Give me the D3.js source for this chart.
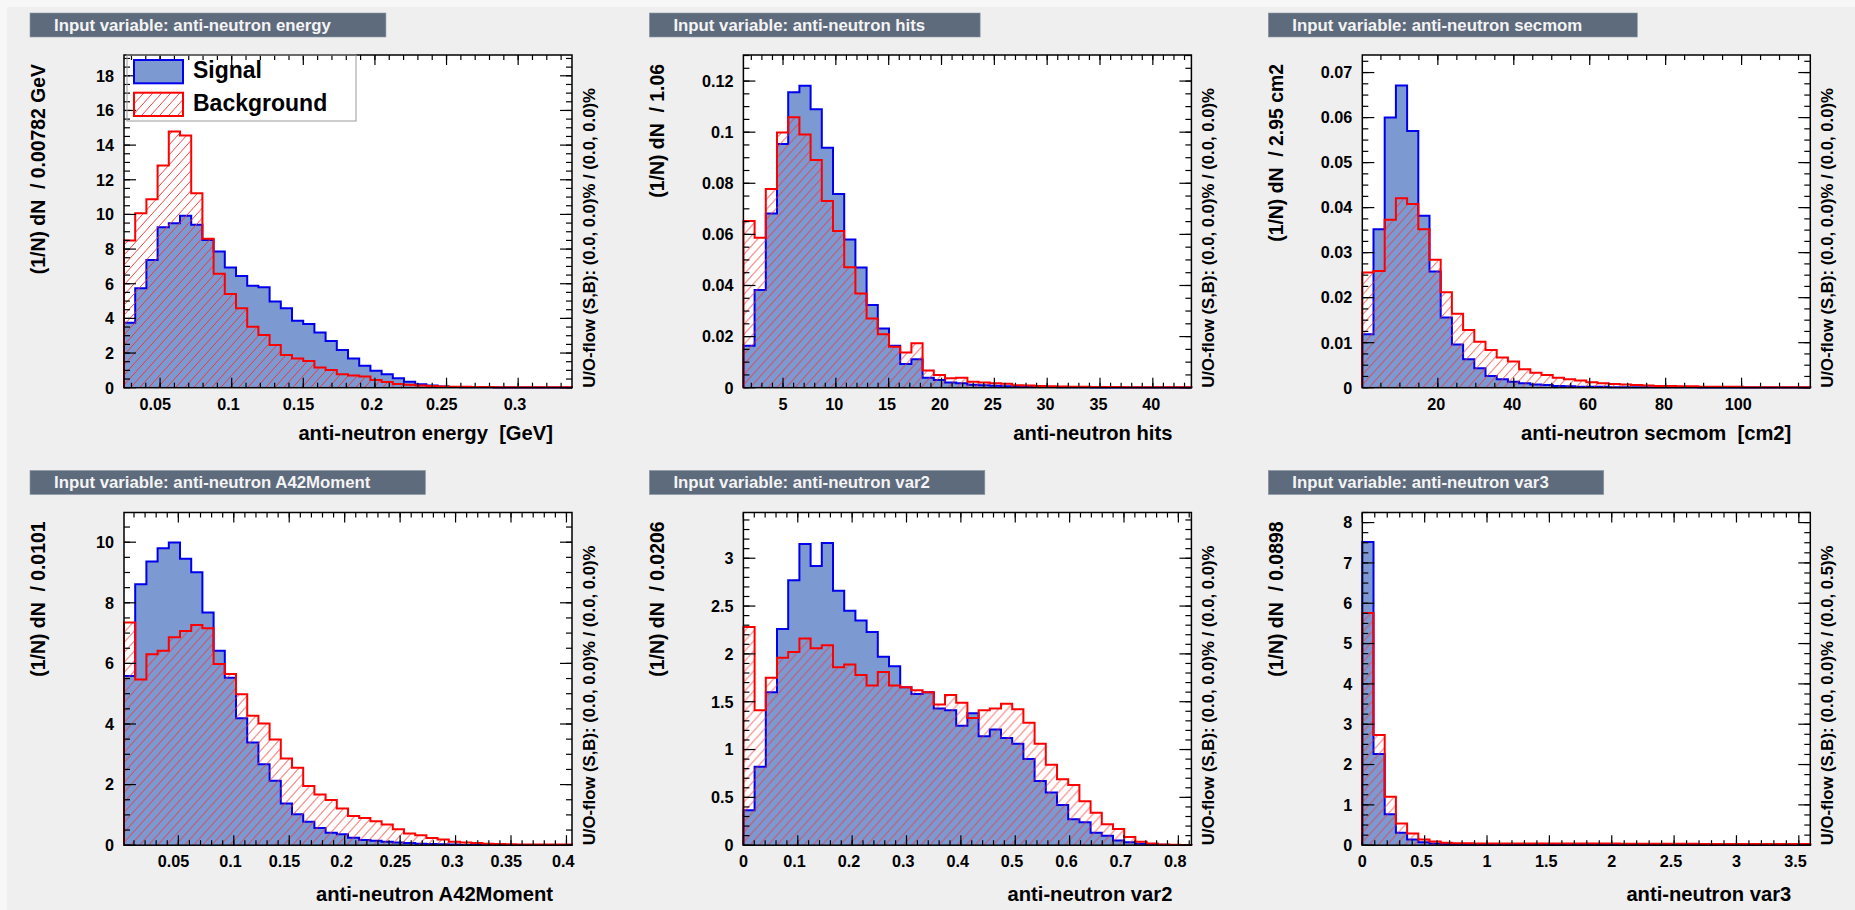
<!DOCTYPE html>
<html>
<head>
<meta charset="utf-8">
<script src="https://cdn.jsdelivr.net/npm/d3@7"></script>
<style>
  body { margin: 0; background: #f7f7f7; }
  svg { display: block; }
  text { font-family: 'Liberation Sans', Arial, Helvetica, sans-serif; font-weight: bold; }
</style>
</head>
<body>
<div id="chart"></div>
<script>
// normalised bin contents (1/N) dN, 40 bins per input variable
const energySignal = [3.75, 5.74, 7.37, 9.26, 9.49, 9.92, 9.4, 8.53, 7.86, 6.93, 6.45, 5.89, 5.8, 4.97, 4.58, 3.87, 3.68, 3.18, 2.7, 2.18,
  1.69, 1.27, 0.98, 0.77, 0.54, 0.35, 0.2, 0.12, 0.07, 0.04, 0.03, 0.02, 0.02, 0.01, 0.01, 0.01, 0.01, 0.005, 0.005, 0.005]
const energyBackground = [8.5, 10.07, 10.88, 12.82, 14.79, 14.56, 11.22, 8.59, 6.57, 5.41, 4.58, 3.52, 3.04, 2.46, 1.89, 1.69, 1.54, 1.16, 1.02, 0.77,
  0.71, 0.64, 0.44, 0.33, 0.21, 0.17, 0.12, 0.1, 0.07, 0.06, 0.05, 0.04, 0.04, 0.03, 0.03, 0.03, 0.02, 0.02, 0.02, 0.02]

const hitsSignal = [0.0164, 0.0382, 0.0682, 0.0954, 0.1156, 0.1182, 0.109, 0.0939, 0.0758, 0.058, 0.047, 0.0324, 0.0232, 0.0164, 0.0093, 0.0111,
  0.0039, 0.003, 0.002, 0.0017, 0.0012, 0.001, 0.0008, 0.0006, 0.0005, 0.0004, 0.0003, 0.0003, 0.0002, 0.0002, 0.0002, 0.0001, 0.0001, 0.0001,
  0.0001, 0.0001, 0.0001, 0.0001, 0.0001, 0.0001]
const hitsBackground = [0.0652, 0.0587, 0.0778, 0.0999, 0.1058, 0.0991, 0.0891, 0.0731, 0.0613, 0.0471, 0.0369, 0.0271, 0.0209, 0.016, 0.0138,
  0.0174, 0.0067, 0.005, 0.0037, 0.0039, 0.0023, 0.002, 0.0017, 0.0015, 0.001, 0.0009, 0.0007, 0.0006, 0.0005, 0.0004, 0.0004, 0.0003, 0.0003,
  0.0003, 0.0002, 0.0002, 0.0002, 0.0002, 0.0002, 0.0002]

const secmomSignal = [0.0119, 0.0352, 0.06, 0.0671, 0.057, 0.0382, 0.0258, 0.0156, 0.0096, 0.0063, 0.0043, 0.0026, 0.0019, 0.0013, 0.001, 0.0007,
  0.0006, 0.0004, 0.0003, 0.0002, 0.0002, 0.0002, 0.0001, 0.0001, 0.0001, 0.0001, 0.0001, 0.0001, 0.0001, 0.0001, 0.00005, 0.00005, 0.00005,
  0.00005, 0.00005, 0.00005, 0.00005, 0.00005, 0.00005, 0.00005]
const secmomBackground = [0.0256, 0.0259, 0.0373, 0.0421, 0.0408, 0.0352, 0.0284, 0.0212, 0.0164, 0.0128, 0.0102, 0.0084, 0.0067, 0.0058, 0.0041,
  0.0033, 0.0028, 0.0022, 0.0019, 0.0016, 0.0012, 0.001, 0.0008, 0.0007, 0.0006, 0.0005, 0.0004, 0.0004, 0.0003, 0.0003, 0.0002, 0.0002, 0.0002,
  0.0002, 0.0001, 0.0001, 0.0001, 0.0001, 0.0001, 0.0001]

const a42Signal = [5.58, 8.61, 9.36, 9.8, 9.99, 9.45, 9.01, 7.68, 6.42, 5.53, 4.19, 3.39, 2.67, 2.13, 1.38, 1.02, 0.77, 0.57, 0.41, 0.36,
  0.25, 0.17, 0.15, 0.11, 0.09, 0.07, 0.05, 0.04, 0.03, 0.02, 0.01, 0.01, 0.01, 0.01, 0.005, 0.005, 0.005, 0.005, 0.005, 0.005]
const a42Background = [7.35, 5.47, 6.3, 6.42, 6.86, 7.07, 7.27, 7.16, 5.98, 5.65, 4.98, 4.27, 4.02, 3.49, 2.86, 2.56, 1.95, 1.67, 1.49, 1.21,
  0.96, 0.9, 0.79, 0.68, 0.53, 0.39, 0.33, 0.24, 0.19, 0.11, 0.09, 0.07, 0.05, 0.04, 0.03, 0.02, 0.02, 0.02, 0.02, 0.02]

const var2Signal = [0.366, 0.82, 1.6, 2.26, 2.77, 3.15, 2.92, 3.16, 2.66, 2.45, 2.35, 2.23, 1.97, 1.87, 1.65, 1.58, 1.6, 1.43, 1.41, 1.25,
  1.38, 1.14, 1.21, 1.12, 1.06, 0.9, 0.67, 0.55, 0.42, 0.27, 0.24, 0.13, 0.1, 0.05, 0.03, 0.015, 0.01, 0.005, 0.003, 0.002]
const var2Background = [2.28, 1.41, 1.75, 1.96, 2.02, 2.16, 2.06, 2.09, 1.86, 1.89, 1.78, 1.67, 1.81, 1.67, 1.65, 1.62, 1.6, 1.47, 1.57, 1.49,
  1.33, 1.41, 1.43, 1.48, 1.42, 1.28, 1.06, 0.84, 0.69, 0.63, 0.46, 0.34, 0.22, 0.17, 0.087, 0.035, 0.017, 0.007, 0.005, 0.003]

const var3Signal = [7.52, 2.26, 0.77, 0.31, 0.14, 0.075, 0.04, 0.03, 0.02, 0.015, 0.01, 0.01, 0.01, 0.005, 0.005, 0.005, 0.005, 0.005, 0.005, 0.005,
  0.003, 0.003, 0.003, 0.003, 0.003, 0.003, 0.003, 0.003, 0.003, 0.003, 0.003, 0.003, 0.003, 0.003, 0.003, 0.003, 0.003, 0.003, 0.003, 0.003]
const var3Background = [5.76, 2.73, 1.2, 0.54, 0.29, 0.14, 0.09, 0.06, 0.05, 0.05, 0.04, 0.04, 0.04, 0.04, 0.04, 0.04, 0.04, 0.04, 0.04, 0.04,
  0.04, 0.04, 0.04, 0.035, 0.035, 0.035, 0.035, 0.035, 0.035, 0.035, 0.03, 0.03, 0.03, 0.03, 0.03, 0.03, 0.03, 0.03, 0.03, 0.03]

const variableTitles = ['anti-neutron energy', 'anti-neutron hits', 'anti-neutron secmom', 'anti-neutron A42Moment', 'anti-neutron var2', 'anti-neutron var3']
const axisTitles = ['anti-neutron energy  [GeV]', 'anti-neutron hits', 'anti-neutron secmom  [cm2]', 'anti-neutron A42Moment', 'anti-neutron var2', 'anti-neutron var3']
const yTitles = ['(1/N) dN  / 0.00782 GeV', '(1/N) dN  / 1.06', '(1/N) dN  / 2.95 cm2', '(1/N) dN  / 0.0101', '(1/N) dN  / 0.0206', '(1/N) dN  / 0.0898']
const overflowLabels = [
  'U/O-flow (S,B): (0.0, 0.0)% / (0.0, 0.0)%',
  'U/O-flow (S,B): (0.0, 0.0)% / (0.0, 0.0)%',
  'U/O-flow (S,B): (0.0, 0.0)% / (0.0, 0.0)%',
  'U/O-flow (S,B): (0.0, 0.0)% / (0.0, 0.0)%',
  'U/O-flow (S,B): (0.0, 0.0)% / (0.0, 0.0)%',
  'U/O-flow (S,B): (0.0, 0.0)% / (0.0, 0.5)%'
]
const binWidths = [0.00782, 1.06, 2.95, 0.0101, 0.0206, 0.0898]
const xMins = [0.0248, 1.25, 0.1, 0.001, 0, 0]
const yMaxes = [19.2, 0.1302, 0.0739, 10.98, 3.478, 8.25]
// [major, minor] tick spacing
const xTickSteps = [[0.05, 0.01], [5, 1], [20, 5], [0.05, 0.01], [0.1, 0.02], [0.5, 0.1]]
const yTickSteps = [[2, 0.5], [0.02, 0.005], [0.01, 0.0025], [2, 0.5], [0.5, 0.1], [1, 0.25]]
const legendLabels = ['Signal', 'Background']

const signals = [energySignal, hitsSignal, secmomSignal, a42Signal, var2Signal, var3Signal]
const backgrounds = [energyBackground, hitsBackground, secmomBackground, a42Background, var2Background, var3Background]

const width = 1855
const height = 910
const frameW = 448
const frameH = 332.7
const colX = [124, 743.4, 1362.3]
const rowY = [55, 512.5]

const sigFill = '#7d99d1'
const sigLine = '#0000ee'
const bkgLine = '#ff0000'

const svg = d3
  .select('#chart')
  .append('svg')
  .attr('width', width)
  .attr('height', height)

svg
  .append('rect')
  .attr('x', 7)
  .attr('y', 7)
  .attr('width', width - 7)
  .attr('height', height - 7)
  .attr('fill', '#efefef')

// red diagonal hatching for the background histograms
svg
  .append('defs')
  .append('pattern')
  .attr('id', 'hatch')
  .attr('patternUnits', 'userSpaceOnUse')
  .attr('width', 9)
  .attr('height', 10)
  .append('path')
  .attr('d', 'M-1,1.11 L1,-1.11 M0,10 L9,0 M8,11.11 L10,8.89')
  .attr('stroke', '#f03030')
  .attr('stroke-width', 0.9)
  .attr('fill', 'none')

function tickValues(domain, step) {
  const eps = step * 1e-6
  const lo = Math.ceil((domain[0] - eps) / step)
  const hi = Math.floor((domain[1] + eps) / step)
  return d3.range(lo, hi + 1).map(k => +(k * step).toFixed(8))
}

signals.forEach((signal, i) => {
  const background = backgrounds[i]
  const left = colX[i % 3]
  const top = rowY[Math.floor(i / 3)]
  const xMin = xMins[i]
  const xMax = xMin + binWidths[i] * signal.length

  const x = d3.scaleLinear().domain([xMin, xMax]).range([0, frameW])
  const y = d3.scaleLinear().domain([0, yMaxes[i]]).range([frameH, 0])

  // title box
  const titleG = svg.append('g').attr('transform', `translate(${left - 94},${top - 42})`)
  const titleBox = titleG
    .append('rect')
    .attr('height', 24)
    .attr('fill', '#5e6b7d')
    .attr('stroke', '#8a96a6')
    .attr('stroke-width', 0.6)
  const titleText = titleG
    .append('text')
    .attr('x', 24)
    .attr('y', 17.5)
    .attr('fill', '#f4f4f4')
    .attr('font-size', 16.8)
    .text('Input variable: ' + variableTitles[i])
  titleBox.attr('width', 24 + titleText.node().getComputedTextLength() + 55)

  const g = svg.append('g').attr('transform', `translate(${left},${top})`)

  g.append('rect')
    .attr('width', frameW)
    .attr('height', frameH)
    .attr('fill', 'white')

  const steps = values => [[xMin, 0]]
    .concat(values.map((v, j) => [xMin + j * binWidths[i], v]))
    .concat([[xMax, values[values.length - 1]], [xMax, 0]])

  const area = d3.area()
    .curve(d3.curveStepAfter)
    .x(d => x(d[0]))
    .y0(y(0))
    .y1(d => y(d[1]))
  const line = d3.line()
    .curve(d3.curveStepAfter)
    .x(d => x(d[0]))
    .y(d => y(d[1]))

  g.append('path').datum(steps(signal)).attr('d', area).attr('fill', sigFill)
  g.append('path').datum(steps(signal)).attr('d', line)
    .attr('fill', 'none').attr('stroke', sigLine).attr('stroke-width', 2)
  g.append('path').datum(steps(background)).attr('d', area).attr('fill', 'url(#hatch)')
  g.append('path').datum(steps(background)).attr('d', line)
    .attr('fill', 'none').attr('stroke', bkgLine).attr('stroke-width', 2)

  // ticks on all four sides
  const ticks = g.append('g').attr('stroke', 'black').attr('stroke-width', 1.2)
  const [xMajor, xMinor] = xTickSteps[i]
  const [yMajor, yMinor] = yTickSteps[i]
  const xTicks = tickValues(x.domain(), xMinor).map(v => ({ v, len: 5 }))
    .concat(tickValues(x.domain(), xMajor).map(v => ({ v, len: 10 })))
  const yTicks = tickValues(y.domain(), yMinor).map(v => ({ v, len: 6 }))
    .concat(tickValues(y.domain(), yMajor).map(v => ({ v, len: 12 })))

  xTicks.forEach(t => {
    ticks.append('line').attr('x1', x(t.v)).attr('x2', x(t.v)).attr('y1', frameH).attr('y2', frameH - t.len)
    ticks.append('line').attr('x1', x(t.v)).attr('x2', x(t.v)).attr('y1', 0).attr('y2', t.len)
  })
  yTicks.forEach(t => {
    ticks.append('line').attr('x1', 0).attr('x2', t.len).attr('y1', y(t.v)).attr('y2', y(t.v))
    ticks.append('line').attr('x1', frameW).attr('x2', frameW - t.len).attr('y1', y(t.v)).attr('y2', y(t.v))
  })

  g.append('rect')
    .attr('width', frameW)
    .attr('height', frameH)
    .attr('fill', 'none')
    .attr('stroke', 'black')
    .attr('stroke-width', 1.5)

  const fmt = v => String(+v.toFixed(6))

  g.selectAll('.xlabel')
    .data(tickValues(x.domain(), xMajor))
    .join('text')
    .attr('class', 'xlabel')
    .attr('x', d => x(d) - 1.6 * (fmt(d).length - 1))
    .attr('y', frameH + 22)
    .attr('text-anchor', 'middle')
    .attr('font-size', 16.2)
    .text(fmt)

  g.selectAll('.ylabel')
    .data(tickValues(y.domain(), yMajor))
    .join('text')
    .attr('class', 'ylabel')
    .attr('x', -10)
    .attr('y', d => y(d))
    .attr('dy', '0.36em')
    .attr('text-anchor', 'end')
    .attr('font-size', 16.2)
    .text(fmt)

  g.append('text')
    .attr('x', frameW - 19)
    .attr('y', frameH + (i < 3 ? 52 : 56))
    .attr('text-anchor', 'end')
    .attr('font-size', 20.2)
    .style('white-space', 'pre')
    .text(axisTitles[i])

  g.append('text')
    .attr('transform', `translate(-79.5,9) rotate(-90)`)
    .attr('text-anchor', 'end')
    .attr('font-size', 19.4)
    .style('white-space', 'pre')
    .text(yTitles[i])

  g.append('text')
    .attr('transform', `translate(${frameW + 23},${frameH}) rotate(-90)`)
    .attr('text-anchor', 'start')
    .attr('font-size', 16.7)
    .text(overflowLabels[i])

  // legend in the first panel only
  if (i === 0) {
    const legend = g.append('g')
    legend
      .append('rect')
      .attr('x', 3)
      .attr('y', 0)
      .attr('width', 229)
      .attr('height', 66)
      .attr('fill', 'none')
      .attr('stroke', '#9a9a9a')
      .attr('stroke-width', 1)
    legendLabels.forEach((label, k) => {
      legend
        .append('rect')
        .attr('x', 10)
        .attr('y', 5 + k * 32.7)
        .attr('width', 49)
        .attr('height', 23.3)
        .attr('fill', k === 0 ? sigFill : 'url(#hatch)')
        .attr('stroke', k === 0 ? sigLine : bkgLine)
        .attr('stroke-width', 2)
      legend
        .append('text')
        .attr('x', 69)
        .attr('y', 22.5 + k * 33.5)
        .attr('font-size', 23)
        .text(label)
    })
  }
})
</script>
</body>
</html>
